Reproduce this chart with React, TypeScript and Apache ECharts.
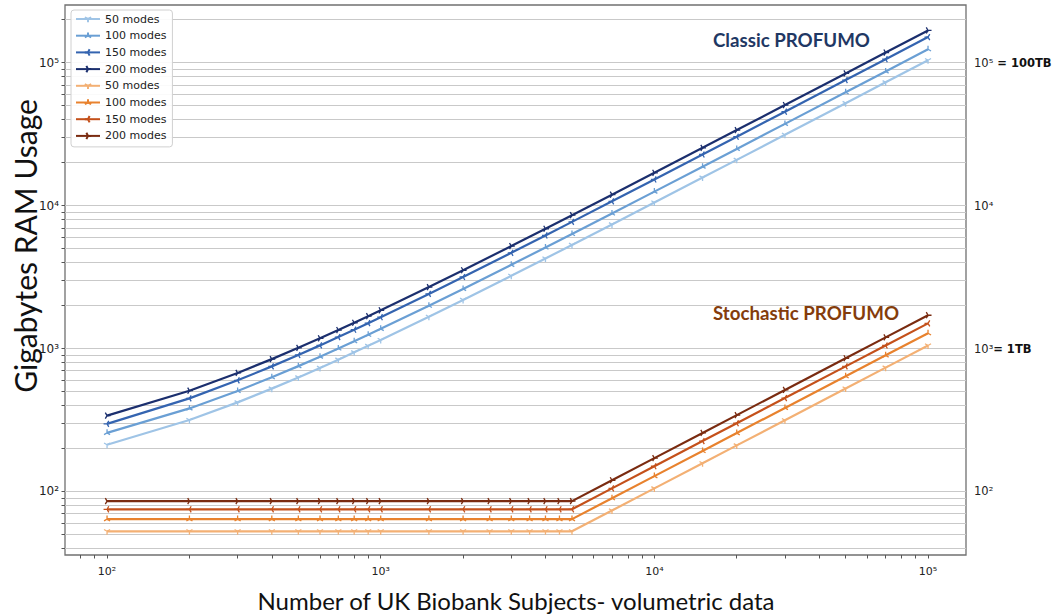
import React, { useEffect, useRef } from 'react';
import * as echarts from 'echarts';

// ---------- data ----------
const X_CLASSIC = [100, 200, 300, 400, 500, 600, 700, 800, 900, 1000, 1500, 2000, 3000, 4000, 5000, 7000, 10000, 15000, 20000, 30000, 50000, 70000, 100000];
const CLASSIC_50 = [212, 316, 420, 524, 628, 732, 836, 940, 1044, 1148, 1668, 2188, 3228, 4268, 5308, 7388, 10508, 15708, 20908, 31308, 52108, 72908, 104108];
const CLASSIC_100 = [257, 381, 505, 629, 753, 877, 1001, 1125, 1249, 1373, 1993, 2613, 3853, 5093, 6333, 8813, 12533, 18733, 24933, 37333, 62133, 86933, 124133];
const CLASSIC_150 = [297, 448, 599, 750, 901, 1052, 1203, 1354, 1505, 1656, 2411, 3166, 4676, 6186, 7696, 10716, 15246, 22796, 30346, 45446, 75646, 105846, 151146];
const CLASSIC_200 = [339, 507, 675, 843, 1011, 1179, 1347, 1515, 1683, 1851, 2691, 3531, 5211, 6891, 8571, 11931, 16971, 25371, 33771, 50571, 84171, 117771, 168171];

const X_STOCH = [100, 200, 300, 400, 500, 600, 700, 800, 900, 1000, 1500, 2000, 2500, 3000, 3500, 4000, 4500, 5000, 7000, 10000, 15000, 20000, 30000, 50000, 70000, 100000];
const STOCH_50 = [52.6, 52.6, 52.6, 52.6, 52.6, 52.6, 52.6, 52.6, 52.6, 52.6, 52.6, 52.6, 52.6, 52.6, 52.6, 52.6, 52.6, 52.6, 73.5, 105, 157.5, 210, 315, 525, 735, 1050];
const STOCH_100 = [64, 64, 64, 64, 64, 64, 64, 64, 64, 64, 64, 64, 64, 64, 64, 64, 64, 64, 89.6, 128, 192, 256, 384, 640, 896, 1280];
const STOCH_150 = [75, 75, 75, 75, 75, 75, 75, 75, 75, 75, 75, 75, 75, 75, 75, 75, 75, 75, 105, 150, 225, 300, 450, 750, 1050, 1500];
const STOCH_200 = [85.5, 85.5, 85.5, 85.5, 85.5, 85.5, 85.5, 85.5, 85.5, 85.5, 85.5, 85.5, 85.5, 85.5, 85.5, 85.5, 85.5, 85.5, 119.7, 171, 256.5, 342, 513, 855, 1197, 1710];

const MODE_LABELS = ['50 modes', '100 modes', '150 modes', '200 modes'];
const CLASSIC_COLORS = ['#9fc4e6', '#6a9fd4', '#3464b0', '#1b2f6e'];
const STOCH_COLORS = ['#f3b074', '#e8822e', '#c4501a', '#7a2b10'];

const X_MAJOR = [100, 1000, 10000, 100000];
const Y_MAJOR = [100, 1000, 10000, 100000];
const X_TICKS = [80, 90, 100, 200, 300, 400, 500, 600, 700, 800, 900, 1000, 2000, 3000, 4000, 5000, 6000, 7000, 8000, 9000, 10000, 20000, 30000, 40000, 50000, 60000, 70000, 80000, 90000, 100000];
const Y_TICKS = [40, 50, 60, 70, 80, 90, 100, 200, 300, 400, 500, 600, 700, 800, 900, 1000, 2000, 3000, 4000, 5000, 6000, 7000, 8000, 9000, 10000, 20000, 30000, 40000, 50000, 60000, 70000, 80000, 90000, 100000, 200000];
const RIGHT_SUFFIX: Record<number, string> = { 1000: '= 1TB', 100000: ' = 100TB' };

const X_MIN = 70.2;
const X_MAX = 137650;
const Y_MIN = 35.9;
const Y_MAX = 253500;

// matplotlib tri markers
const TRI_DOWN = 'path://M0,-10 M0,0 L0,10 M0,0 L-8.66,-5 M0,0 L8.66,-5';
const TRI_UP = 'path://M0,10 M0,0 L0,-10 M0,0 L-8.66,5 M0,0 L8.66,5';
const TRI_LEFT = 'path://M10,0 M0,0 L-10,0 M0,0 L5,-8.66 M0,0 L5,8.66';
const TRI_RIGHT = 'path://M-10,0 M0,0 L10,0 M0,0 L-5,-8.66 M0,0 L-5,8.66';
const MARKERS = [TRI_DOWN, TRI_UP, TRI_LEFT, TRI_RIGHT];

const SUP: Record<string, string> = { '0': '⁰', '1': '¹', '2': '²', '3': '³', '4': '⁴', '5': '⁵', '6': '⁶' };
const pow10Label = (v: number) => {
  const e = Math.log10(v);
  const r = Math.round(e);
  if (Math.abs(e - r) > 1e-6) return '';
  return '10' + String(r).split('').map((c) => SUP[c] || c).join('');
};

const zip = (xs: number[], ys: number[]) => xs.map((x, i) => [x, ys[i]]);

export default function App() {
  const ref = useRef<HTMLDivElement>(null);

  useEffect(() => {
    document.body.style.margin = '0';
    if (!ref.current) return;
    const chart = echarts.init(ref.current, undefined, { renderer: 'svg' });

    const classicSets = [CLASSIC_50, CLASSIC_100, CLASSIC_150, CLASSIC_200];
    const stochSets = [STOCH_50, STOCH_100, STOCH_150, STOCH_200];

    const mkSeries = (prefix: string, xs: number[], sets: number[][], colors: string[]) =>
      sets.map((ys, i) => ({
        name: prefix + ' ' + MODE_LABELS[i],
        type: 'line',
        xAxisIndex: 0,
        yAxisIndex: 0,
        data: zip(xs, ys),
        symbol: MARKERS[i],
        symbolSize: 7,
        symbolKeepAspect: true,
        showSymbol: true,
        lineStyle: { width: 2.2, color: colors[i] },
        itemStyle: { color: colors[i], borderColor: colors[i], borderWidth: 1.3 },
        emphasis: { disabled: true },
      }));

    const series = [
      ...mkSeries('Classic', X_CLASSIC, classicSets, CLASSIC_COLORS),
      ...mkSeries('Stochastic', X_STOCH, stochSets, STOCH_COLORS),
    ];

    const option: any = {
      animation: false,
      backgroundColor: '#ffffff',
      grid: {
        left: 65,
        right: 91,
        top: 5,
        bottom: 60,
        containLabel: false,
        outerBoundsMode: 'none',
        show: true,
        borderColor: '#707070',
        borderWidth: 1.3,
        backgroundColor: 'transparent',
      },
      legend: {
        orient: 'vertical',
        left: 71,
        top: 10,
        padding: [2, 6, 4, 4],
        itemWidth: 24,
        itemHeight: 8,
        itemGap: 2.7,
        borderColor: '#d0d0d0',
        borderWidth: 1,
        borderRadius: 3,
        backgroundColor: 'rgba(255,255,255,0.9)',
        textStyle: { fontFamily: 'DejaVu Sans', fontSize: 11, color: '#222', lineHeight: 14 },
        data: series.map((s) => s.name),
        formatter: (name: string) => name.replace(/^(Classic|Stochastic) /, ''),
      },
      xAxis: [
        {
          type: 'log',
          logBase: 10,
          min: X_MIN,
          max: X_MAX,
          axisLine: { show: false },
          axisTick: { show: true, inside: false, length: 3.5, customValues: X_TICKS, lineStyle: { color: '#555', width: 1 } },
          axisLabel: {
            customValues: X_MAJOR,
            formatter: (v: number) => pow10Label(v),
            fontFamily: 'DejaVu Sans',
            fontSize: 11,
            color: '#222',
            margin: 11,
          },
          splitLine: { show: false },
        },
      ],
      yAxis: [
        {
          type: 'log',
          logBase: 10,
          position: 'left',
          min: Y_MIN,
          max: Y_MAX,
          axisLine: { show: false },
          axisTick: { show: true, inside: false, length: 3.5, customValues: Y_TICKS, lineStyle: { color: '#555', width: 1 } },
          axisLabel: {
            customValues: Y_MAJOR,
            formatter: (v: number) => pow10Label(v),
            fontFamily: 'DejaVu Sans',
            fontSize: 12,
            color: '#222',
            margin: 6,
          },
          splitLine: { show: true, lineStyle: { color: '#c9c9c9', width: 1.2 } },
        },
        {
          type: 'log',
          logBase: 10,
          position: 'right',
          min: Y_MIN,
          max: Y_MAX,
          axisLine: { show: false },
          axisTick: { show: false },
          splitLine: { show: false },
          axisLabel: {
            customValues: Y_MAJOR,
            margin: 8,
            formatter: (v: number) => {
              const base = pow10Label(v);
              if (!base) return '';
              const suf = RIGHT_SUFFIX[v];
              return suf ? `{s|${base}}{b|${suf}}` : `{s|${base}}`;
            },
            rich: {
              s: { fontFamily: 'DejaVu Sans', fontSize: 11.5, color: '#222' },
              b: { fontFamily: 'DejaVu Sans', fontSize: 11.5, fontWeight: 'bold', color: '#111' },
            },
          },
        },
      ],
      graphic: [
        {
          type: 'text',
          left: 713,
          top: 30,
          silent: true,
          style: { text: 'Classic PROFUMO', fontFamily: 'Lato', fontWeight: 'bold', fontSize: 18.7, fill: '#1f3864' },
        },
        {
          type: 'text',
          left: 713,
          top: 303,
          silent: true,
          style: { text: 'Stochastic PROFUMO', fontFamily: 'Lato', fontWeight: 'bold', fontSize: 18.7, fill: '#843c0c' },
        },
        {
          type: 'text',
          x: 25,
          y: 246,
          rotation: Math.PI / 2,
          silent: true,
          style: {
            text: 'Gigabytes RAM Usage',
            fontFamily: 'Lato',
            fontSize: 30,
            fill: '#111',
            align: 'center',
            verticalAlign: 'middle',
          },
        },
        {
          type: 'text',
          x: 516,
          y: 600,
          silent: true,
          style: {
            text: 'Number of UK Biobank Subjects- volumetric data',
            fontFamily: 'Lato',
            fontSize: 24,
            fill: '#111',
            align: 'center',
            verticalAlign: 'middle',
          },
        },
      ],
      series,
    };

    chart.setOption(option);
    return () => chart.dispose();
  }, []);

  return <div ref={ref} style={{ width: 1057, height: 615 }} />;
}
